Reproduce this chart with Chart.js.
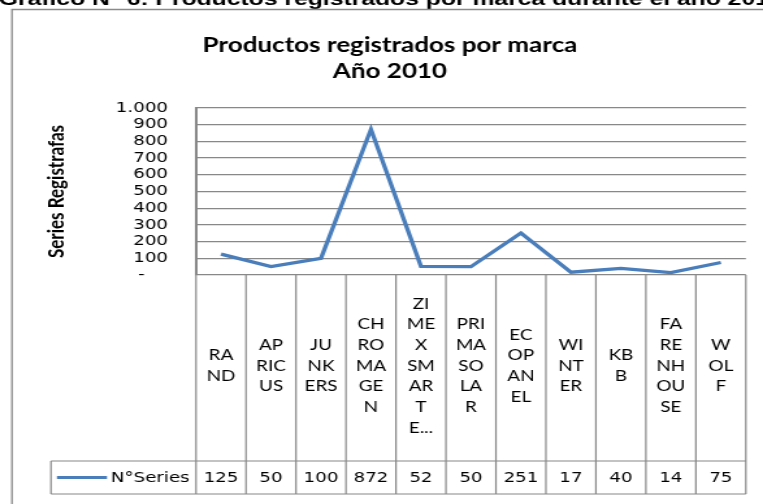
<!DOCTYPE html>
<html>
<head>
<meta charset="utf-8">
<script src="https://cdn.jsdelivr.net/npm/chart.js@4.4.1/dist/chart.umd.min.js"></script>
<style>
	body { margin: 0; background: #fff; }
</style>
</head>
<body>
<canvas id="grafico" width="587" height="504" style="display:block;width:763px;height:504px"></canvas>
<script>
// datos del grafico (etiquetas tal como Excel las corta en la tabla)
var categorias = [
	['RA', 'ND'],
	['AP', 'RIC', 'US'],
	['JU', 'NK', 'ERS'],
	['CH', 'RO', 'MA', 'GE', 'N'],
	['ZI', 'ME', 'X', 'SM', 'AR', 'T', 'E...'],
	['PRI', 'MA', 'SO', 'LA', 'R'],
	['EC', 'OP', 'AN', 'EL'],
	['WI', 'NT', 'ER'],
	['KB', 'B'],
	['FA', 'RE', 'NH', 'OU', 'SE'],
	['W', 'OL', 'F']
];
var nombreSerie = 'N°Series';
var valoresSerie = [125, 50, 100, 872, 52, 50, 251, 17, 40, 14, 75];
var ejeYMin = 0;
var ejeYMax = 1000;
var ejeYPaso = 100;
var tituloGrafico = ['Productos registrados por marca', 'Año 2010'];
var tituloEjeY = 'Series Registrafas';
var leyendaSuperior = 'Gráfico N° 6: Productos registrados por marca durante el año 2010';

var colorLinea = '#4A7EBB';
var colorGrilla = '#888888';

var grafico = {
	formatoTick: function (value) {
		if ( value == 0 ) {
			return '-    ';
		}
		return String(value).replace(/\B(?=(\d{3})+(?!\d))/g, '.');
	}, // end - formatoTick

	tablaPlugin: {
		id: 'tablaDatos',
		beforeDraw: function (chart) {
			var ctx = chart.ctx;
			ctx.save();
			ctx.fillStyle = '#fff';
			ctx.fillRect(0, 0, chart.width, chart.height);

			// texto cortado arriba
			ctx.fillStyle = '#000';
			ctx.font = 'bold 19px "Liberation Sans"';
			ctx.textBaseline = 'alphabetic';
			ctx.fillText(leyendaSuperior, -1, 4.5);

			// marco del grafico
			ctx.strokeStyle = '#8a8a8a';
			ctx.lineWidth = 1.3;
			ctx.beginPath();
			ctx.moveTo(9.2, chart.height);
			ctx.lineTo(9.2, 9.5);
			ctx.lineTo(chart.width, 9.5);
			ctx.stroke();
			ctx.restore();
		},
		afterDraw: function (chart) {
			var ctx = chart.ctx;
			var x = chart.scales.x;
			var area = chart.chartArea;
			var paso = x.getPixelForValue(1) - x.getPixelForValue(0);
			var inicio = x.getPixelForValue(0) - paso / 2;
			var fin = inicio + paso * categorias.length;
			var filaTop = 461;
			var filaBottom = 494;
			var filaMedio = (filaTop + filaBottom) / 2;
			var leyendaLeft = 39.2;
			var centroEtiquetas = (area.bottom + filaTop) / 2 - 2;

			ctx.save();
			ctx.strokeStyle = colorGrilla;
			ctx.lineWidth = 1.2;
			ctx.beginPath();
			for (var i = 0; i <= categorias.length; i++) {
				ctx.moveTo(inicio + i * paso, area.bottom);
				ctx.lineTo(inicio + i * paso, filaBottom);
			}
			ctx.moveTo(leyendaLeft, filaTop);
			ctx.lineTo(fin, filaTop);
			ctx.moveTo(leyendaLeft, filaBottom);
			ctx.lineTo(fin, filaBottom);
			ctx.moveTo(leyendaLeft, filaTop);
			ctx.lineTo(leyendaLeft, filaBottom);
			ctx.stroke();

			ctx.fillStyle = '#000';
			ctx.textAlign = 'center';
			ctx.textBaseline = 'middle';

			// etiquetas de categorias
			ctx.font = '14.5px Lato';
			for (var i = 0; i < categorias.length; i++) {
				var lineas = categorias[i];
				var cx = x.getPixelForValue(i);
				for (var j = 0; j < lineas.length; j++) {
					ctx.fillText(lineas[j], cx, centroEtiquetas + (j - (lineas.length - 1) / 2) * 20.7);
				}
			}

			// valores
			var datos = chart.data.datasets[0].data;
			ctx.font = '14px "DejaVu Sans"';
			for (var i = 0; i < datos.length; i++) {
				ctx.fillText(String(datos[i]), x.getPixelForValue(i), filaMedio + 1);
			}

			// clave de leyenda
			ctx.strokeStyle = colorLinea;
			ctx.lineWidth = 3;
			ctx.beginPath();
			ctx.moveTo(43.8, filaMedio);
			ctx.lineTo(82.3, filaMedio);
			ctx.stroke();
			ctx.textAlign = 'right';
			ctx.fillText(chart.data.datasets[0].label, inicio - 5, filaMedio + 1);
			ctx.restore();
		}
	}, // end - tablaPlugin

	dibujar: function () {
		new Chart('grafico', {
			type: 'line',
			data: {
				labels: categorias,
				datasets: [{
					label: nombreSerie,
					data: valoresSerie,
					borderColor: colorLinea,
					borderWidth: 3.3,
					pointRadius: 0,
					tension: 0,
					fill: false
				}]
			},
			options: {
				responsive: false,
				animation: false,
				layout: {
					padding: { left: 26.2, right: 13.2, top: 0, bottom: 0 }
				},
				plugins: {
					legend: { display: false },
					tooltip: { enabled: false },
					title: {
						display: true,
						text: tituloGrafico,
						color: '#000',
						font: { family: 'Lato', size: 20, weight: 'bold', lineHeight: 1.3 },
						padding: { top: 33, bottom: 23 }
					}
				},
				scales: {
					x: {
						offset: true,
						ticks: { display: false },
						grid: { display: false, drawTicks: false },
						border: { display: false },
						afterFit: function (scale) { scale.height = 229; }
					},
					y: {
						min: ejeYMin,
						max: ejeYMax,
						ticks: {
							stepSize: ejeYPaso,
							autoSkip: false,
							padding: 21.6,
							color: '#000',
							font: { family: 'DejaVu Sans', size: 14, lineHeight: 1 },
							callback: grafico.formatoTick
						},
						grid: { color: colorGrilla, lineWidth: 1.3, drawTicks: false },
						border: { display: true, color: colorGrilla, width: 2 },
						title: {
							display: true,
							text: tituloEjeY,
							color: '#000',
							font: { family: 'Lato', size: 17, weight: 'bold', lineHeight: 1.2 },
							padding: { top: 7, bottom: 0 }
						},
						afterFit: function (scale) { scale.width = 124.6; }
					}
				}
			},
			plugins: [grafico.tablaPlugin]
		});
	} // end - dibujar
};

grafico.dibujar();
</script>
</body>
</html>
